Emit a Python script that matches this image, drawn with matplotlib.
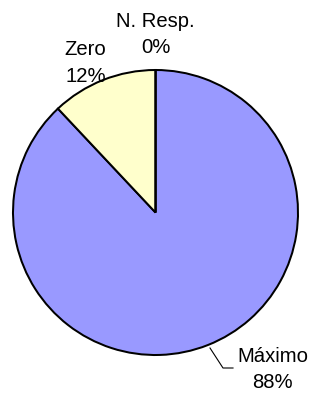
import matplotlib
matplotlib.use("Agg")
import matplotlib.pyplot as plt

categories = ["Máximo", "Zero", "N. Resp."]
values = [88, 12, 0]
pct_labels = ["88%", "12%", "0%"]
colors = ["#9999FF", "#FFFFCC", "#FFFFFF"]

W, H = 315, 394
fig = plt.figure(figsize=(W / 100, H / 100), dpi=100)
ax = fig.add_axes([0, 0, 1, 1])

cx, cy, r = 155.5, H - 212.5, 142.5
wedges, _ = ax.pie(values, colors=colors, startangle=90, counterclock=False,
                   center=(cx, cy), radius=r,
                   wedgeprops=dict(edgecolor="black", linewidth=1.45),
                   normalize=True)
ax.set_xlim(0, W)
ax.set_ylim(0, H)
ax.set_aspect("equal")
ax.axis("off")

font = dict(family=["Liberation Sans", "DejaVu Sans"], fontsize=14.6, color="black")
# label positions (x center, first baseline, second baseline) in pixels
label_pos = {
    "Máximo": (272.5, 361.7, 388.0),
    "Zero": (85.5, 55.0, 81.7),
    "N. Resp.": (155.5, 26.7, 53.3),
}
for cat, pct in zip(categories, pct_labels):
    x, b1, b2 = label_pos[cat]
    ax.text(x, H - b1, cat, ha="center", va="baseline", **font)
    ax.text(x, H - b2, pct, ha="center", va="baseline", **font)

# leader line for Máximo
ax.plot([210, 223, 233], [H - 348, H - 368, H - 368], color="black", lw=0.8)

fig.savefig("out.png", dpi=100)
